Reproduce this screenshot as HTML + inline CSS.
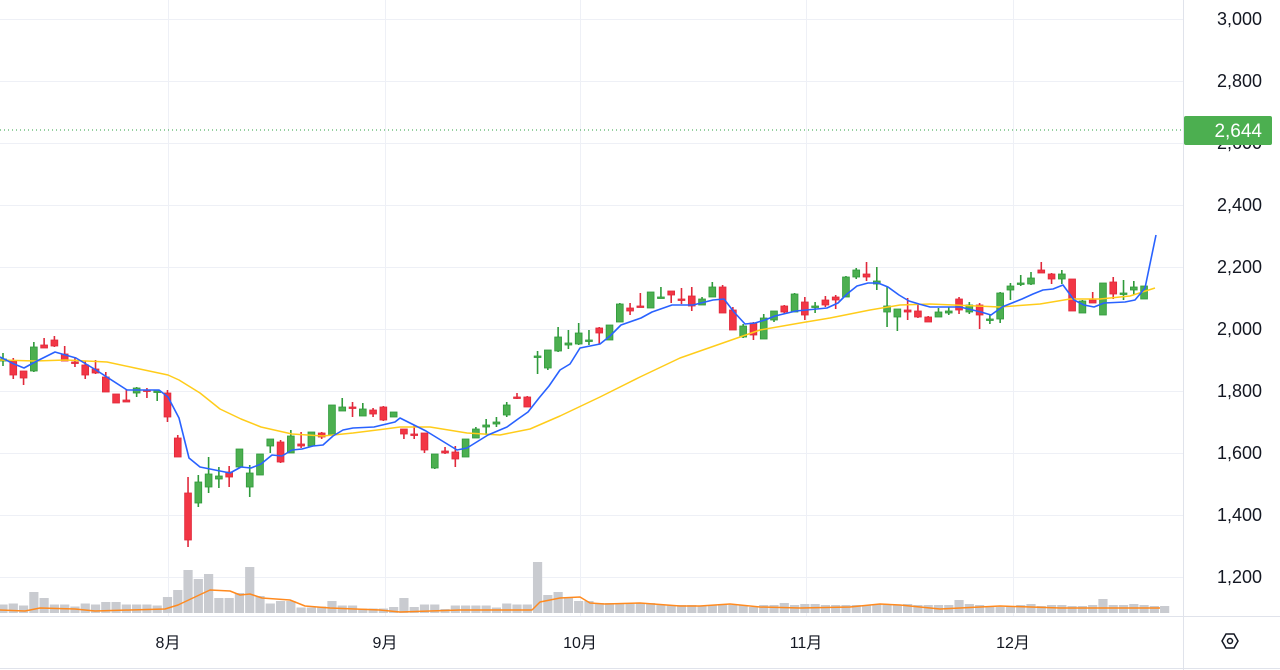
<!DOCTYPE html>
<html><head><meta charset="utf-8"><style>
html,body{margin:0;padding:0;background:#fff;width:1280px;height:670px;overflow:hidden}
svg{display:block}
text{font-family:"Liberation Sans","Noto Sans CJK JP",sans-serif;fill:#131722}
</style></head><body>
<svg id="s" width="1280" height="670" xmlns="http://www.w3.org/2000/svg">
<g id="grid"></g>
<g id="vol"></g>
<g id="cand"></g>
<g id="lines"></g>
<line x1="1183.5" y1="0" x2="1183.5" y2="670" stroke="#e0e3eb"/>
<line x1="0" y1="616.5" x2="1280" y2="616.5" stroke="#e0e3eb"/>
<line x1="0" y1="668.5" x2="1280" y2="668.5" stroke="#e0e3eb"/>
<g id="ylab"></g>
<line x1="0" y1="130" x2="1183" y2="130" stroke="#2ea043" stroke-width="1" stroke-dasharray="1,3"/>
<rect x="1184" y="116" width="88" height="29" rx="2" fill="#4caf50"/>
<text x="1262" y="137" text-anchor="end" font-size="19" style="fill:#fff">2,644</text>
<g font-size="16" text-anchor="middle">
<text x="168" y="648">8月</text><text x="385" y="648">9月</text><text x="580" y="648">10月</text><text x="806" y="648">11月</text><text x="1013" y="648">12月</text>
</g>
<polygon points="1222,641 1226,634 1234,634 1238,641 1234,648 1226,648" fill="none" stroke="#131722" stroke-width="1.5"/>
<circle cx="1230" cy="641" r="2.5" fill="none" stroke="#131722" stroke-width="1.5"/>
</svg>
<script>
const NS="http://www.w3.org/2000/svg";
function el(p,t,a){const e=document.createElementNS(NS,t);for(const k in a)e.setAttribute(k,a[k]);p.appendChild(e);return e;}
const g=document.getElementById('grid'),yl=document.getElementById('ylab');
const labs=[[19,"3,000"],[81,"2,800"],[143,"2,600"],[205,"2,400"],[267,"2,200"],[329,"2,000"],[391,"1,800"],[453,"1,600"],[515,"1,400"],[577,"1,200"]];
labs.forEach(([y,t])=>{el(g,'line',{x1:0,x2:1183,y1:y+.5,y2:y+.5,stroke:'#eef0f6'});const tx=el(yl,'text',{x:1262,y:y+6,'text-anchor':'end','font-size':'18'});tx.textContent=t;});
[168,385,580,806,1013].forEach(x=>el(g,'line',{x1:x+.5,x2:x+.5,y1:0,y2:616,stroke:'#eef0f6'}));
// candles: [bodyTop, bodyBot, wickTop, wickBot, color]
const C=[
[359,361,353,366,'g'],[361,375,358,379,'r'],[371,378,371,385,'r'],[347,371,342,372,'g'],[345,348,338,348,'r'],[340,346,336,347,'r'],[354,361,346,361,'r'],[362,363,357,367,'r'],[365,375,361,379,'r'],[369,373,360,374,'r'],
[377,392,372,392,'r'],[394,403,394,403,'r'],[400,402,389,402,'r'],[388,393,387,397,'g'],[390,391,388,398,'r'],[391,392,391,401,'g'],[393,417,390,422,'r'],[438,457,435,457,'r'],[493,540,477,547,'r'],[482,503,475,507,'g'],
[474,487,457,493,'g'],[476,479,467,488,'g'],[472,477,466,487,'r'],[449,467,449,467,'g'],[473,487,465,497,'g'],[454,475,454,475,'g'],[439,446,439,453,'g'],[442,462,440,463,'r'],[436,453,430,453,'g'],[444,446,432,448,'r'],
[432,446,432,446,'g'],[433,437,432,439,'r'],[405,435,405,435,'g'],[407,411,398,411,'g'],[407,408,402,417,'r'],[409,416,403,416,'g'],[410,414,408,417,'r'],[407,420,406,421,'r'],[412,417,412,417,'g'],[429,434,429,439,'r'],
[434,435,425,439,'r'],[433,450,433,453,'r'],[454,468,454,469,'g'],[451,453,447,454,'r'],[452,459,446,467,'r'],[439,457,439,457,'g'],[429,438,427,438,'g'],[425,427,419,435,'g'],[422,424,417,427,'g'],[405,415,402,417,'g'],
[397,398,393,399,'r'],[397,407,396,407,'r'],[356,357,351,374,'g'],[350,368,350,370,'g'],[337,351,327,352,'g'],[343,345,330,349,'g'],[333,344,323,345,'g'],[340,341,330,345,'g'],[328,333,327,344,'r'],[325,340,325,340,'g'],
[304,322,303,322,'g'],[308,311,303,315,'r'],[306,307,293,307,'r'],[292,308,292,308,'g'],[297,298,287,298,'g'],[291,295,291,303,'r'],[299,300,288,304,'r'],[296,306,287,311,'r'],[299,305,297,305,'g'],[287,297,282,297,'g'],
[287,313,285,313,'r'],[310,330,307,330,'r'],[326,337,324,338,'g'],[323,335,322,340,'r'],[318,339,314,339,'g'],[311,320,311,322,'g'],[306,312,305,314,'r'],[294,312,293,312,'g'],
[302,315,297,320,'r'],[306,307,302,313,'g'],[300,305,296,307,'r'],[297,300,295,309,'r'],[277,297,276,297,'g'],[270,277,268,279,'g'],[274,277,262,281,'r'],[281,284,267,290,'g'],[306,312,287,327,'g'],[309,317,309,331,'g'],
[310,312,298,320,'r'],[311,317,304,318,'r'],[317,322,316,322,'r'],[312,317,308,317,'g'],[311,313,307,315,'g'],[299,310,297,314,'r'],[305,312,302,314,'g'],[305,315,303,329,'r'],[319,320,315,324,'g'],[293,319,292,323,'g'],
[286,290,283,300,'g'],[283,284,275,286,'g'],[278,284,272,285,'g'],[270,273,262,273,'r'],[274,279,273,284,'r'],[274,279,270,284,'g'],[279,311,279,311,'r'],[301,313,300,313,'g'],[300,303,292,303,'r'],[283,315,283,315,'g'],
[282,294,277,299,'r'],[293,294,280,300,'g'],[287,290,281,295,'g'],[286,299,286,299,'g']];
const cg=document.getElementById('cand');
C.forEach((c,i)=>{const x=3+i*10.28;const col=c[4]=='r'?'#f23645':'#4caf50',st=c[4]=='r'?'#e0283a':'#2e9a3a';
el(cg,'line',{x1:x,x2:x,y1:c[2],y2:c[3],stroke:st,'stroke-width':1.6});
const h=Math.max(c[1]-c[0],1.5);el(cg,'rect',{x:x-3.4,y:c[0],width:6.8,height:h,fill:col,stroke:st,'stroke-width':0.8});});
// volume
const VH=[8.5,9.5,7.5,21,15,8.5,8.5,6.5,9.5,8.5,11,11,8.5,8.5,8.5,7.5,16,23,43,34,39,15,15,20,46,17,9.5,12,12,5.5,5.5,6.5,12,7.5,7.5,4.5,4.5,4.5,6,15,6,8.5,8.5,4,7.5,7.5,7.5,7.5,5.5,9.5,8.5,8.5,51,18,21,15,12,12,
10,10,9,9,10,10,8,8,8,8,7,8,9,8,8,6,8,8,10,8,9,9,8,8,8,8,8,9,9,8,9,8,8,8,8,13,9,8,7,6,6,8,9,7,8,8,7,7,8,14,8,8,9,8,7,7];
const vg=document.getElementById('vol');
VH.forEach((h,i)=>{const x=3+i*10.28;el(vg,'rect',{x:x-4.6,y:613-h,width:9.2,height:h,fill:'#c9cbd0'});});
const lg=document.getElementById('lines');
function pl(pts,col,w){el(lg,'polyline',{points:pts.map(p=>p.join(',')).join(' '),fill:'none',stroke:col,'stroke-width':w,'stroke-linejoin':'round'});}
pl([[0,610],[25,611],[40,608],[75,609],[95,611],[130,610],[165,609],[178,605],[195,597],[210,590],[230,591],[240,595],[250,594],[262,598],[290,600],[305,606],[330,608],[380,610],[400,612],[430,611],[460,610],[532,610],[540,602],[560,598],[580,597],[590,603],[605,604],[640,603],[680,606],[700,606],[730,604],[760,607],[800,608],[850,607],[880,604],[900,605],[940,609],[980,607],[1000,606],[1060,608],[1160,608]],'#ff8a1f',1.5);
pl([[0,360],[35,361],[66,360],[107,362],[135,368],[168,375],[179,380],[200,393],[220,409],[241,419],[261,427],[292,434],[323,436],[353,433],[385,429],[400,427],[430,427],[467,433],[500,435],[530,429],[560,416],[600,397],[640,377],[680,358],[720,344],[740,337],[760,330],[800,323],[830,318],[870,310],[900,305],[930,304],[1000,307],[1040,304],[1070,299],[1100,299],[1130,296],[1155,288]],'#ffcc1a',1.5);
pl([[0,357],[14,364],[24,368],[35,362],[55,352],[76,358],[96,370],[127,390],[159,390],[168,397],[179,418],[189,458],[200,467],[220,471],[230,473],[241,467],[251,468],[261,464],[272,455],[282,456],[292,450],[302,449],[313,446],[323,445],[333,436],[343,430],[353,428],[374,427],[395,422],[400,418],[426,431],[457,450],[467,448],[488,435],[507,427],[518,419],[528,412],[539,398],[549,386],[560,370],[570,364],[580,348],[590,346],[600,344],[610,336],[621,325],[641,318],[652,312],[672,305],[693,305],[713,300],[724,299],[734,312],[745,324],[755,323],[765,320],[775,316],[796,311],[827,308],[838,303],[847,294],[857,286],[868,283],[878,283],[888,287],[899,295],[909,301],[919,304],[930,307],[960,307],[981,312],[991,315],[1002,307],[1012,303],[1022,299],[1033,294],[1043,290],[1053,289],[1063,285],[1074,300],[1084,305],[1094,307],[1104,303],[1125,302],[1135,300],[1145,288],[1156,235]],'#2962ff',1.6);
</script>
</body></html>
